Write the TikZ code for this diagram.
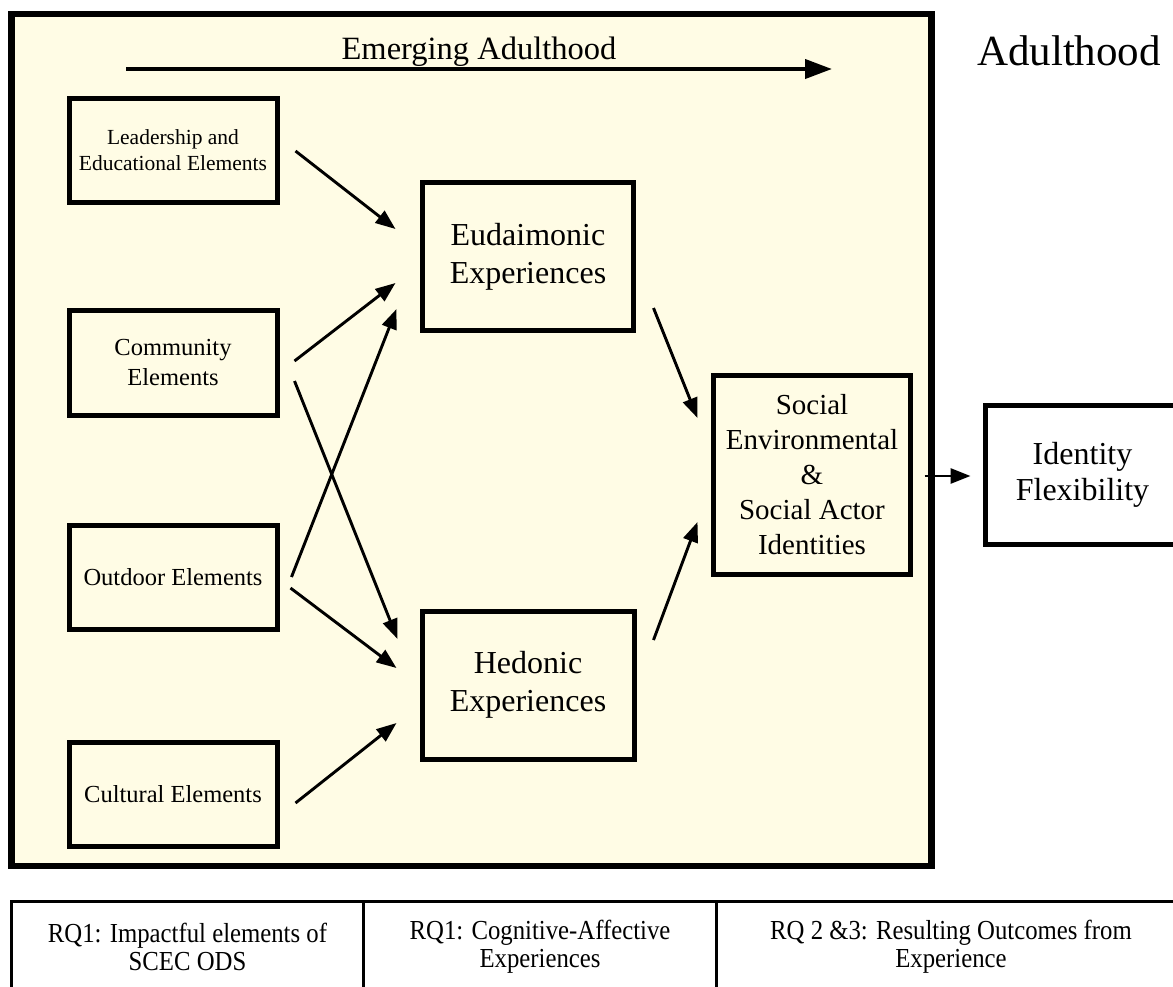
\documentclass[tikz,border=0pt]{standalone}
\usepackage{fontspec}
\setmainfont{Liberation Serif}
\newfontfamily\narrowserif[FakeStretch=0.9]{Liberation Serif}
\usetikzlibrary{arrows.meta}
\definecolor{bgyellow}{RGB}{255,252,229}
\begin{document}
\begin{tikzpicture}[x=1pt,y=-1pt,
  elem/.style={draw, line width=5pt, fill=bgyellow, minimum width=208pt, minimum height=104pt, inner sep=0pt, align=center, font=\fontsize{24.5}{30}\selectfont},
  expbox/.style={draw, line width=5pt, fill=bgyellow, minimum width=211pt, minimum height=148pt, inner sep=0pt, align=center, font=\fontsize{32}{38}\selectfont},
  socbox/.style={draw, line width=5pt, fill=bgyellow, minimum width=197pt, minimum height=199pt, inner sep=0pt, align=center, font=\fontsize{29}{35}\selectfont},
  idbox/.style={draw, line width=5pt, fill=white, minimum width=194pt, minimum height=139pt, inner sep=0pt, align=center, font=\fontsize{32}{36}\selectfont},
  cell/.style={draw, line width=3pt, inner sep=0pt, minimum height=110pt},
  celltext/.style={align=center, inner sep=0pt, font=\narrowserif\fontsize{27.5}{28}\selectfont},
  arr/.style={line width=2.9pt, -{Triangle[length=20pt,width=15pt]}},
  bigarr/.style={line width=4pt, -{Triangle[length=27pt,width=19pt]}}
]
\useasboundingbox (0,0) rectangle (1173,986);
\fill[white] (0,0) rectangle (1173,986);

% frame
\node[draw, line width=6.5pt, fill=bgyellow, minimum width=920pt, minimum height=852pt, inner sep=0pt] (frame) at (471.5,440) {};

% titles
\node[anchor=base, inner sep=0pt, font=\fontsize{32.5}{36}\selectfont] (emerg) at (479,59) {Emerging Adulthood};
\node[anchor=base, inner sep=0pt, font=\fontsize{43}{48}\selectfont] (adult) at (1069,65) {Adulthood};
\coordinate (ea1) at (126,69);
\coordinate (ea2) at (832,69);
\draw[bigarr] (ea1) -- (ea2);

% element boxes
\node[elem, font=\fontsize{21.5}{26}\selectfont] (lead) at (173,150) {Leadership and\\Educational Elements};
\node[elem, minimum height=105pt] (com) at (173,362.5) {Community\\Elements};
\node[elem] (out) at (173,577) {Outdoor Elements};
\node[elem] (cul) at (173,794) {Cultural Elements};

% experiences
\node[expbox] (eud) at (528,256.5) {Eudaimonic\\Experiences};
\node[expbox, minimum width=212pt] (hed) at (528,685) {Hedonic\\Experiences};

% identities
\node[socbox] (soc) at (812,475) {Social\\Environmental\\\&\\Social Actor\\Identities};
\node[idbox] (id) at (1082.5,475) {Identity\\Flexibility};

% arrows
\draw[arr] ([shift={(16,1)}]lead.east) -- ([shift={(-24.5,-27.5)}]eud.west);
\draw[arr] ([shift={(15,-1.5)}]com.east) -- ([shift={(-24.5,26.5)}]eud.west);
\draw[arr] ([shift={(15,18.5)}]com.east) -- ([shift={(-22,-46)}]hed.west);
\draw[arr] ([shift={(12,0)}]out.east) -- ([shift={(-23.5,52.5)}]eud.west);
\draw[arr] ([shift={(11,11)}]out.east) -- ([shift={(-23,-17)}]hed.west);
\draw[arr] ([shift={(16,9)}]cul.east) -- ([shift={(-23,38)}]hed.west);
\draw[arr] ([shift={(17.5,51.5)}]eud.east) -- ([shift={(-13.5,-57)}]soc.west);
\draw[arr] ([shift={(17,-45)}]hed.east) -- ([shift={(-13.5,47)}]soc.west);
\draw[arr] ([shift={(11.5,1)}]soc.east) -- ([shift={(-12.5,1)}]id.west);

% research question table
\node[cell, minimum width=352pt] (c1) at (187.5,956) {};
\node[cell, minimum width=352.5pt] (c2) at (539.75,956) {};
\node[cell, minimum width=474pt] (c3) at (953,956) {};
\node[celltext] (t1) at (187.5,947) {RQ1: Impactful elements of\\SCEC ODS};
\node[celltext] (t2) at (540,947) {RQ1: Cognitive-Affective\\Experiences};
\node[celltext] (t3) at (951,947) {RQ 2 \&3: Resulting Outcomes from\\Experience};
\end{tikzpicture}
\end{document}
